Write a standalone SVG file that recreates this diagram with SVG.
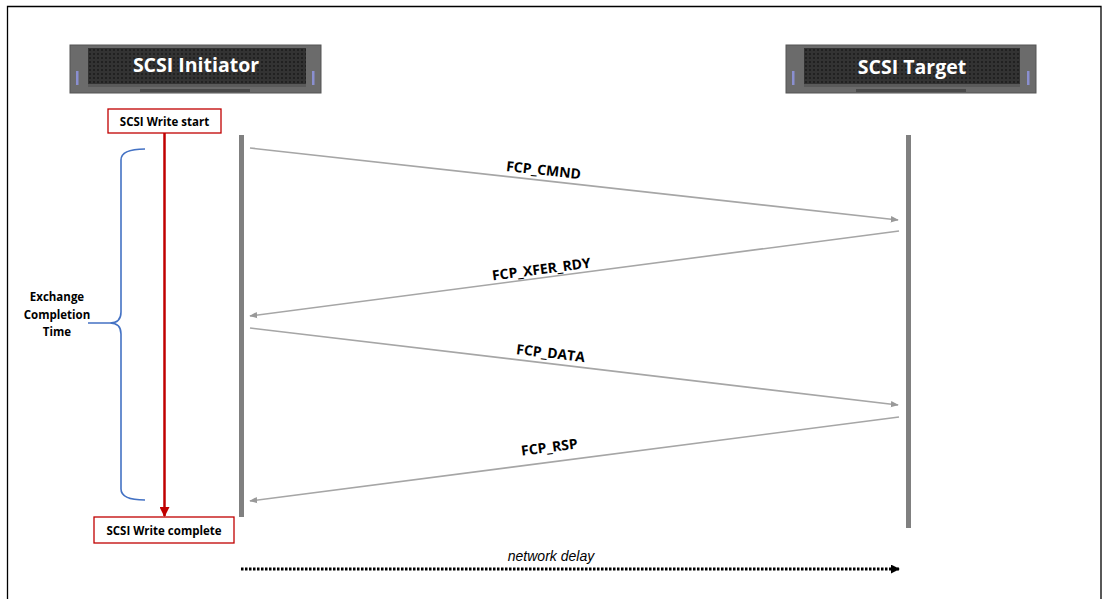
<svg xmlns="http://www.w3.org/2000/svg" width="1103" height="599" viewBox="0 0 1103 599">
  <defs>
    <pattern id="mesh" width="4" height="4" patternUnits="userSpaceOnUse">
      <rect width="4" height="4" fill="#333"/>
      <circle cx="2" cy="2" r="1.1" fill="#1c1c1c"/>
    </pattern>
    <marker id="arrowGray" viewBox="0 0 10 10" refX="9" refY="5" markerWidth="8" markerHeight="8" orient="auto" markerUnits="userSpaceOnUse">
      <path d="M0,1 L10,5 L0,9 z" fill="#999"/>
    </marker>
    <marker id="arrowRed" viewBox="0 0 10 10" refX="9" refY="5" markerWidth="10" markerHeight="10" orient="auto" markerUnits="userSpaceOnUse">
      <path d="M0,0 L10,5 L0,10 z" fill="#c00000"/>
    </marker>
    <marker id="arrowBlack" viewBox="0 0 10 10" refX="9" refY="5" markerWidth="9" markerHeight="9" orient="auto" markerUnits="userSpaceOnUse">
      <path d="M0,0 L10,5 L0,10 z" fill="#000"/>
    </marker>
  </defs>
  <style>
    .msg { stroke: #a6a6a6; stroke-width: 1.6; fill: none; marker-end: url(#arrowGray); }
    .life { fill: #808080; }
    .lbl { font-family: "Open Sans", "Liberation Sans", sans-serif; font-weight: bold; font-size: 14px; fill: #000; text-anchor: middle; }
    .box { fill: #fff; stroke: #c00000; stroke-width: 1.3; }
    .boxText { font-family: "Open Sans", "Liberation Sans", sans-serif; font-weight: bold; font-size: 11.5px; fill: #000; text-anchor: middle; }
    .srvName { font-family: "Open Sans", "Liberation Sans", sans-serif; font-weight: bold; font-size: 19.5px; fill: #fff; text-anchor: middle; }
  </style>

  <rect width="1103" height="599" fill="#fff"/>
  <!-- outer frame -->
  <path d="M7.5,599 V6.5 H1101 V599" fill="none" stroke="#000" stroke-width="1.3"/>

  <!-- initiator server -->
  <g id="initiator">
    <rect x="70" y="45" width="251" height="48" fill="#6b6b6b"/>
    <rect x="70" y="45" width="251" height="48" fill="none" stroke="#555" stroke-width="1"/>
    <rect x="88" y="48" width="218" height="36" fill="url(#mesh)"/>
    <rect x="76" y="71" width="2.5" height="14" fill="#8a8fd0"/>
    <rect x="312" y="71" width="2.5" height="14" fill="#8a8fd0"/>
    <rect x="88" y="84" width="218" height="3" fill="#5a5a5a"/>
    <rect x="140" y="89" width="110" height="3" fill="#4a4a4a"/>
    <text class="srvName" x="196" y="72">SCSI Initiator</text>
  </g>

  <!-- target server -->
  <g id="target">
    <rect x="786" y="45" width="250" height="48" fill="#6b6b6b"/>
    <rect x="786" y="45" width="250" height="48" fill="none" stroke="#555" stroke-width="1"/>
    <rect x="804" y="48" width="216" height="36" fill="url(#mesh)"/>
    <rect x="792" y="71" width="2.5" height="14" fill="#8a8fd0"/>
    <rect x="1027" y="71" width="2.5" height="14" fill="#8a8fd0"/>
    <rect x="804" y="84" width="216" height="3" fill="#5a5a5a"/>
    <rect x="856" y="89" width="110" height="3" fill="#4a4a4a"/>
    <text class="srvName" x="912" y="74">SCSI Target</text>
  </g>

  <!-- lifelines -->
  <g id="lifelines">
    <rect class="life" x="239" y="135" width="5" height="382"/>
    <rect class="life" x="906" y="135" width="5" height="393"/>
  </g>

  <!-- exchange timing -->
  <g id="exchange-time">
    <path d="M145,149 Q121,149 121,160 V312 Q121,323 110,323 H88 M110,323 Q121,323 121,334 V489 Q121,500 145,500" fill="none" stroke="#4472c4" stroke-width="1.6"/>
    <text class="boxText" x="57" y="301">Exchange</text>
    <text class="boxText" x="57" y="319">Completion</text>
    <text class="boxText" x="57" y="336">Time</text>
  </g>

  <g id="write-start">
    <rect class="box" x="108" y="109" width="113" height="24"/>
    <text class="boxText" x="164.5" y="125.5">SCSI Write start</text>
  </g>

  <g id="write-complete">
    <rect class="box" x="94" y="517" width="140" height="26"/>
    <text class="boxText" x="164" y="534.5">SCSI Write complete</text>
  </g>

  <!-- connectors -->
  <g id="connectors">
    <line x1="164.5" y1="133" x2="164.5" y2="516" stroke="#c00000" stroke-width="2.5" marker-end="url(#arrowRed)"/>
    <line class="msg" x1="250" y1="148" x2="898" y2="220"/>
    <line class="msg" x1="899" y1="231" x2="250" y2="316"/>
    <line class="msg" x1="250" y1="328" x2="898" y2="405"/>
    <line class="msg" x1="899" y1="417" x2="250" y2="501"/>
    <line x1="241" y1="569" x2="899" y2="569" stroke="#000" stroke-width="3" stroke-dasharray="2.5 1.5" marker-end="url(#arrowBlack)"/>
  </g>

  <!-- message labels -->
  <g id="labels">
    <text class="lbl" transform="translate(543,175) rotate(6.3)">FCP_CMND</text>
    <text class="lbl" transform="translate(542,274) rotate(-7.4)">FCP_XFER_RDY</text>
    <text class="lbl" transform="translate(550,358) rotate(6.8)">FCP_DATA</text>
    <text class="lbl" transform="translate(550,452) rotate(-7.4)">FCP_RSP</text>
    <text x="551" y="561" font-family="Liberation Sans, Arial, sans-serif" font-style="italic" font-size="14" text-anchor="middle" fill="#000">network delay</text>
  </g>
</svg>
